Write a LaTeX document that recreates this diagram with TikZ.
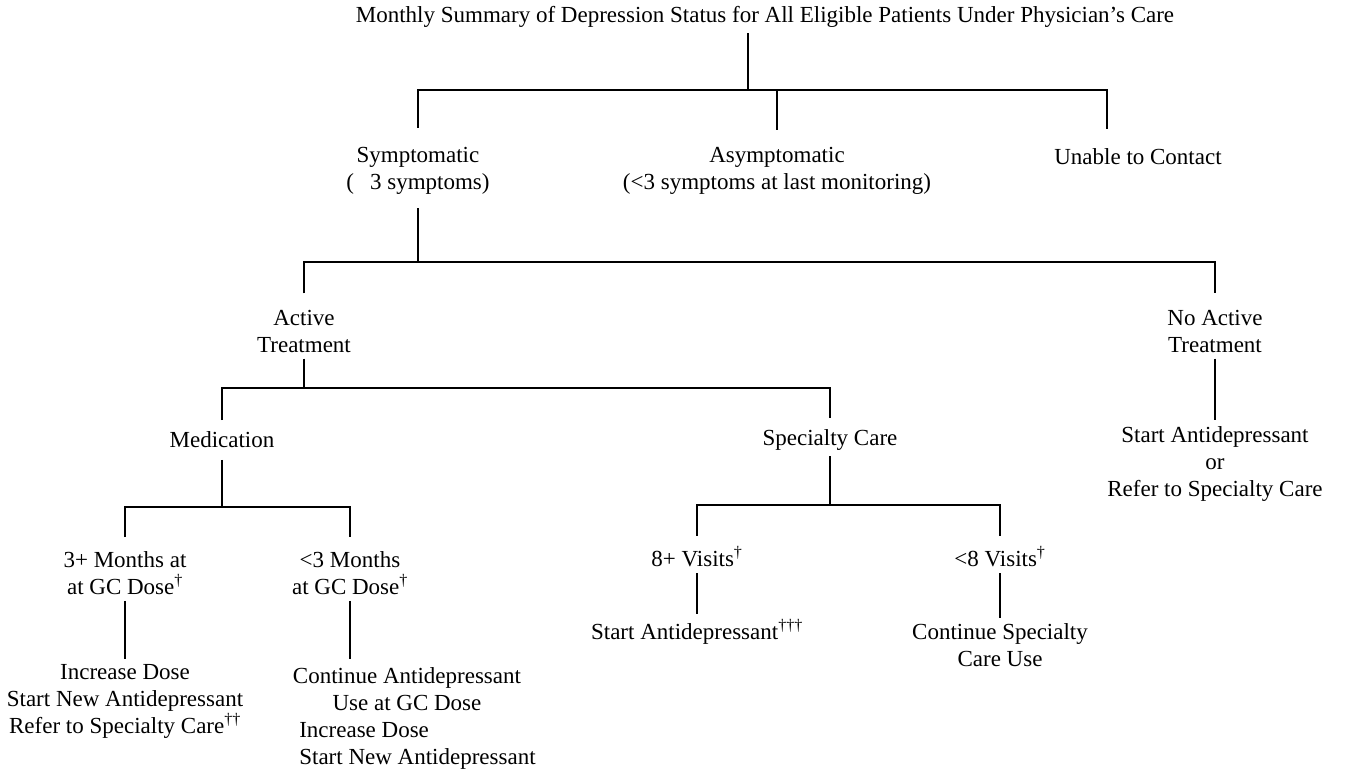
\documentclass[tikz,border=0pt]{standalone}
\usepackage{fontspec}
\setmainfont{Liberation Serif}
\tikzset{
  box/.style={align=center, inner sep=5pt, font=\fontsize{23}{27}\selectfont},
  link/.style={draw, line width=1.8pt},
  bar/.style={shorten <=#1, shorten >=#1},
}
\newcommand{\dg}[1]{\textsuperscript{#1}}
\begin{document}
\begin{tikzpicture}[x=1pt, y=-1pt, link]
  \useasboundingbox (0,0) rectangle (1355,771);
  % top level
  \node[box] (title) at (765,17) {Monthly Summary of Depression Status for All Eligible Patients Under Physician's Care};
  \node[box] (sym) at (418,171) {Symptomatic\\(\hspace{0.7em}3 symptoms)};
  \node[box] (asym) at (777,171) {Asymptomatic\\(<3 symptoms at last monitoring)};
  \node[box] (unable) at (1138,157) {Unable to Contact};
  \coordinate (j1) at (748,90);
  \draw (title.south -| j1) -- (j1);
  \draw[bar=14pt] (sym.north) |- (j1) -| ([xshift=-31pt]unable.north);
  \draw[shorten <=12pt] (asym.north) -- (asym.north |- j1);
  % treatment
  \node[box] (act) at (304,331.5) {Active\\Treatment};
  \node[box] (noact) at (1215,331.5) {No Active\\Treatment};
  \coordinate (j2) at (418,262);
  \draw[shorten <=8pt] (sym) -- (j2);
  \draw[bar=11pt] (act.north) |- (j2) -| (noact.north);
  \node[box] (opt) at (1215,463.5) {Start Antidepressant\\or\\Refer to Specialty Care};
  \draw (noact) -- (opt);
  % active treatment
  \node[box] (med) at (222,440) {Medication};
  \node[box] (spec) at (830,440) {Specialty Care};
  \coordinate (j3) at (304,388);
  \draw (act) -- (j3);
  \draw[bar=6pt] (med.north) |- (j3) -| (spec.north);
  % medication
  \node[box] (more3) at (125,573.5) {3+ Months at\\at GC Dose\dg{\dag}};
  \node[box] (less3) at (350,573.5) {<3 Months\\at GC Dose\dg{\dag}};
  \coordinate (j4) at (222,507);
  \draw[shorten <=6pt] (med) -- (j4);
  \draw[bar=9pt] (more3.north) |- (j4) -| (less3.north);
  \node[box] (todo1) at (125,701.5) {Increase Dose\\Start New Antidepressant\\Refer to Specialty Care\dg{\dag\dag}};
  \draw (more3) -- (todo1);
  \node[box] (todo2) at (407,719) {\begin{tabular}{@{}c@{}}
    Continue Antidepressant\\
    Use at GC Dose\\
    \multicolumn{1}{@{\hspace{21pt}}l@{}}{Increase Dose}\\
    \multicolumn{1}{@{\hspace{21pt}}l@{}}{Start New Antidepressant}
  \end{tabular}};
  \draw (less3) -- (less3.south |- todo2.north);
  % specialty care
  \node[box] (more8) at (697,557) {8+ Visits\dg{\dag}};
  \node[box] (less8) at (1000,557) {<8 Visits\dg{\dag}};
  \coordinate (j5) at (830,505);
  \draw (spec) -- (j5);
  \draw[bar=5pt] (more8.north) |- (j5) -| (less8.north);
  \node[box] (start) at (697,632) {Start Antidepressant\dg{\dag\dag\dag}};
  \node[box] (cont) at (1000,645) {Continue Specialty\\Care Use};
  \draw (more8) -- (start);
  \draw (less8) -- (cont);
\end{tikzpicture}
\end{document}
